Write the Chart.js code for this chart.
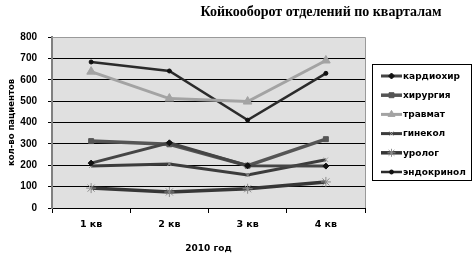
<!DOCTYPE html>
<html>
<head>
<meta charset="utf-8">
<script src="https://cdn.jsdelivr.net/npm/chart.js@4"></script>
<style>
    html, body { margin: 0; padding: 0; background: #fff; }
    #wrap { width: 473px; height: 258px; }
</style>
</head>
<body>
<div id="wrap"><canvas id="bedChart" width="473" height="258"></canvas></div>
<script>
const quarters = ['1 кв', '2 кв', '3 кв', '4 кв'];
const seriesNames = ['кардиохир', 'хирургия', 'травмат', 'гинекол', 'уролог', 'эндокринол'];

const kardioValues = [210, 305, 198, 196];
const hirurgValues = [313, 298, 198, 322];
const travmatValues = [638, 512, 498, 690];
const ginekolValues = [197, 206, 154, 226];
const urologValues = [93, 75, 90, 122];
const endokrinValues = [683, 641, 411, 630];

const greyColors = {
    dark: '#2b2b2b',
    mid: '#454545',
    steel: '#555555',
    light: '#a3a3a3',
    star: '#8c8c8c',
    plot: '#e0e0e0'
};

const seriesStyle = [
    { color: greyColors.mid, width: 3, point: 'rectRot', radius: 3, pointColor: '#111' },
    { color: greyColors.steel, width: 3.5, point: 'rect', radius: 3.5, pointColor: greyColors.steel },
    { color: greyColors.light, width: 3, point: 'triangle', radius: 5, pointColor: greyColors.light },
    { color: '#3c3c3c', width: 3, point: 'crossRot', radius: 3, pointColor: '#999' },
    { color: '#363636', width: 3.5, point: 'star', radius: 5, pointColor: greyColors.star },
    { color: greyColors.dark, width: 2.5, point: 'circle', radius: 2, pointColor: '#111' }
];

const allValues = [kardioValues, hirurgValues, travmatValues, ginekolValues, urologValues, endokrinValues];

const datasets = seriesNames.map((name, i) => ({
    label: name,
    data: allValues[i],
    borderColor: seriesStyle[i].color,
    borderWidth: seriesStyle[i].width,
    pointStyle: seriesStyle[i].point,
    pointRadius: seriesStyle[i].radius,
    pointBackgroundColor: seriesStyle[i].pointColor,
    pointBorderColor: seriesStyle[i].pointColor,
    pointBorderWidth: 1,
    tension: 0
}));

// plot background, frame, title and legend box
const decorations = {
    id: 'decorations',
    beforeDraw(chart) {
        const { ctx, chartArea: a } = chart;
        ctx.save();
        ctx.fillStyle = greyColors.plot;
        ctx.fillRect(a.left, a.top, a.right - a.left, a.bottom - a.top);
        ctx.restore();
    },
    afterDraw(chart) {
        const { ctx, chartArea: a } = chart;
        ctx.save();
        ctx.strokeStyle = '#9a9a9a';
        ctx.lineWidth = 1;
        ctx.beginPath();
        ctx.moveTo(a.left, a.top + 0.5);
        ctx.lineTo(a.right + 0.5, a.top + 0.5);
        ctx.lineTo(a.right + 0.5, a.bottom);
        ctx.stroke();

        ctx.fillStyle = '#000';
        ctx.font = 'bold 14px "Liberation Serif"';
        ctx.textAlign = 'center';
        ctx.textBaseline = 'middle';
        ctx.fillText('Койкооборот отделений по кварталам', 321, 12);

        // legend
        const bx = 372, by = 64, bw = 99, bh = 116;
        ctx.fillStyle = '#fff';
        ctx.fillRect(bx, by, bw, bh);
        ctx.strokeStyle = '#000';
        ctx.lineWidth = 1;
        ctx.strokeRect(bx + 0.5, by + 0.5, bw, bh);
        ctx.font = 'bold 9px "DejaVu Sans"';
        ctx.textAlign = 'left';
        chart.data.datasets.forEach((ds, i) => {
            const y = 76 + i * 19.2;
            ctx.strokeStyle = ds.borderColor;
            ctx.lineWidth = ds.borderWidth;
            ctx.beginPath();
            ctx.moveTo(381, y);
            ctx.lineTo(402, y);
            ctx.stroke();
            ctx.fillStyle = ds.pointBackgroundColor;
            ctx.strokeStyle = ds.pointBorderColor;
            ctx.lineWidth = 1;
            Chart.helpers.drawPoint(ctx, {
                pointStyle: ds.pointStyle,
                radius: Math.min(ds.pointRadius, 4),
                rotation: 0,
                borderWidth: 1
            }, 391.5, y);
            ctx.fillStyle = '#000';
            ctx.fillText(ds.label, 403, y + 0.5);
        });
        ctx.restore();
    }
};

const ctx = document.getElementById('bedChart').getContext('2d');
const bedChart = new Chart(ctx, {
    type: 'line',
    data: { labels: quarters, datasets: datasets },
    plugins: [decorations],
    options: {
        responsive: false,
        animation: false,
        layout: { padding: { top: 37, right: 108, left: 0, bottom: 0 } },
        plugins: {
            legend: { display: false },
            title: { display: false },
            tooltip: { enabled: false }
        },
        scales: {
            x: {
                offset: true,
                grid: { offset: true, drawOnChartArea: false, tickLength: 5, color: '#000' },
                border: { color: '#000', width: 1 },
                ticks: { color: '#000', font: { family: 'DejaVu Sans', weight: 'bold', size: 9.5 }, padding: 6 },
                title: {
                    display: true,
                    text: '2010 год',
                    color: '#000',
                    font: { family: 'DejaVu Sans', weight: 'bold', size: 9 },
                    padding: { top: 0, bottom: 4 }
                },
                afterFit: scale => { scale.height = 50; }
            },
            y: {
                min: 0,
                max: 800,
                ticks: {
                    stepSize: 100,
                    color: '#000',
                    font: { family: 'Liberation Sans', weight: 'bold', size: 10 },
                    padding: 11
                },
                grid: { color: '#000', lineWidth: 1, tickLength: 4, tickColor: '#000' },
                border: { color: '#808080', width: 2 },
                title: {
                    display: true,
                    text: 'кол-во пациентов',
                    color: '#000',
                    font: { family: 'DejaVu Sans', weight: 'bold', size: 8.5 },
                    padding: { top: 7, bottom: 0 }
                },
                afterFit: scale => { scale.width = 52; }
            }
        }
    }
});
</script>
</body>
</html>
